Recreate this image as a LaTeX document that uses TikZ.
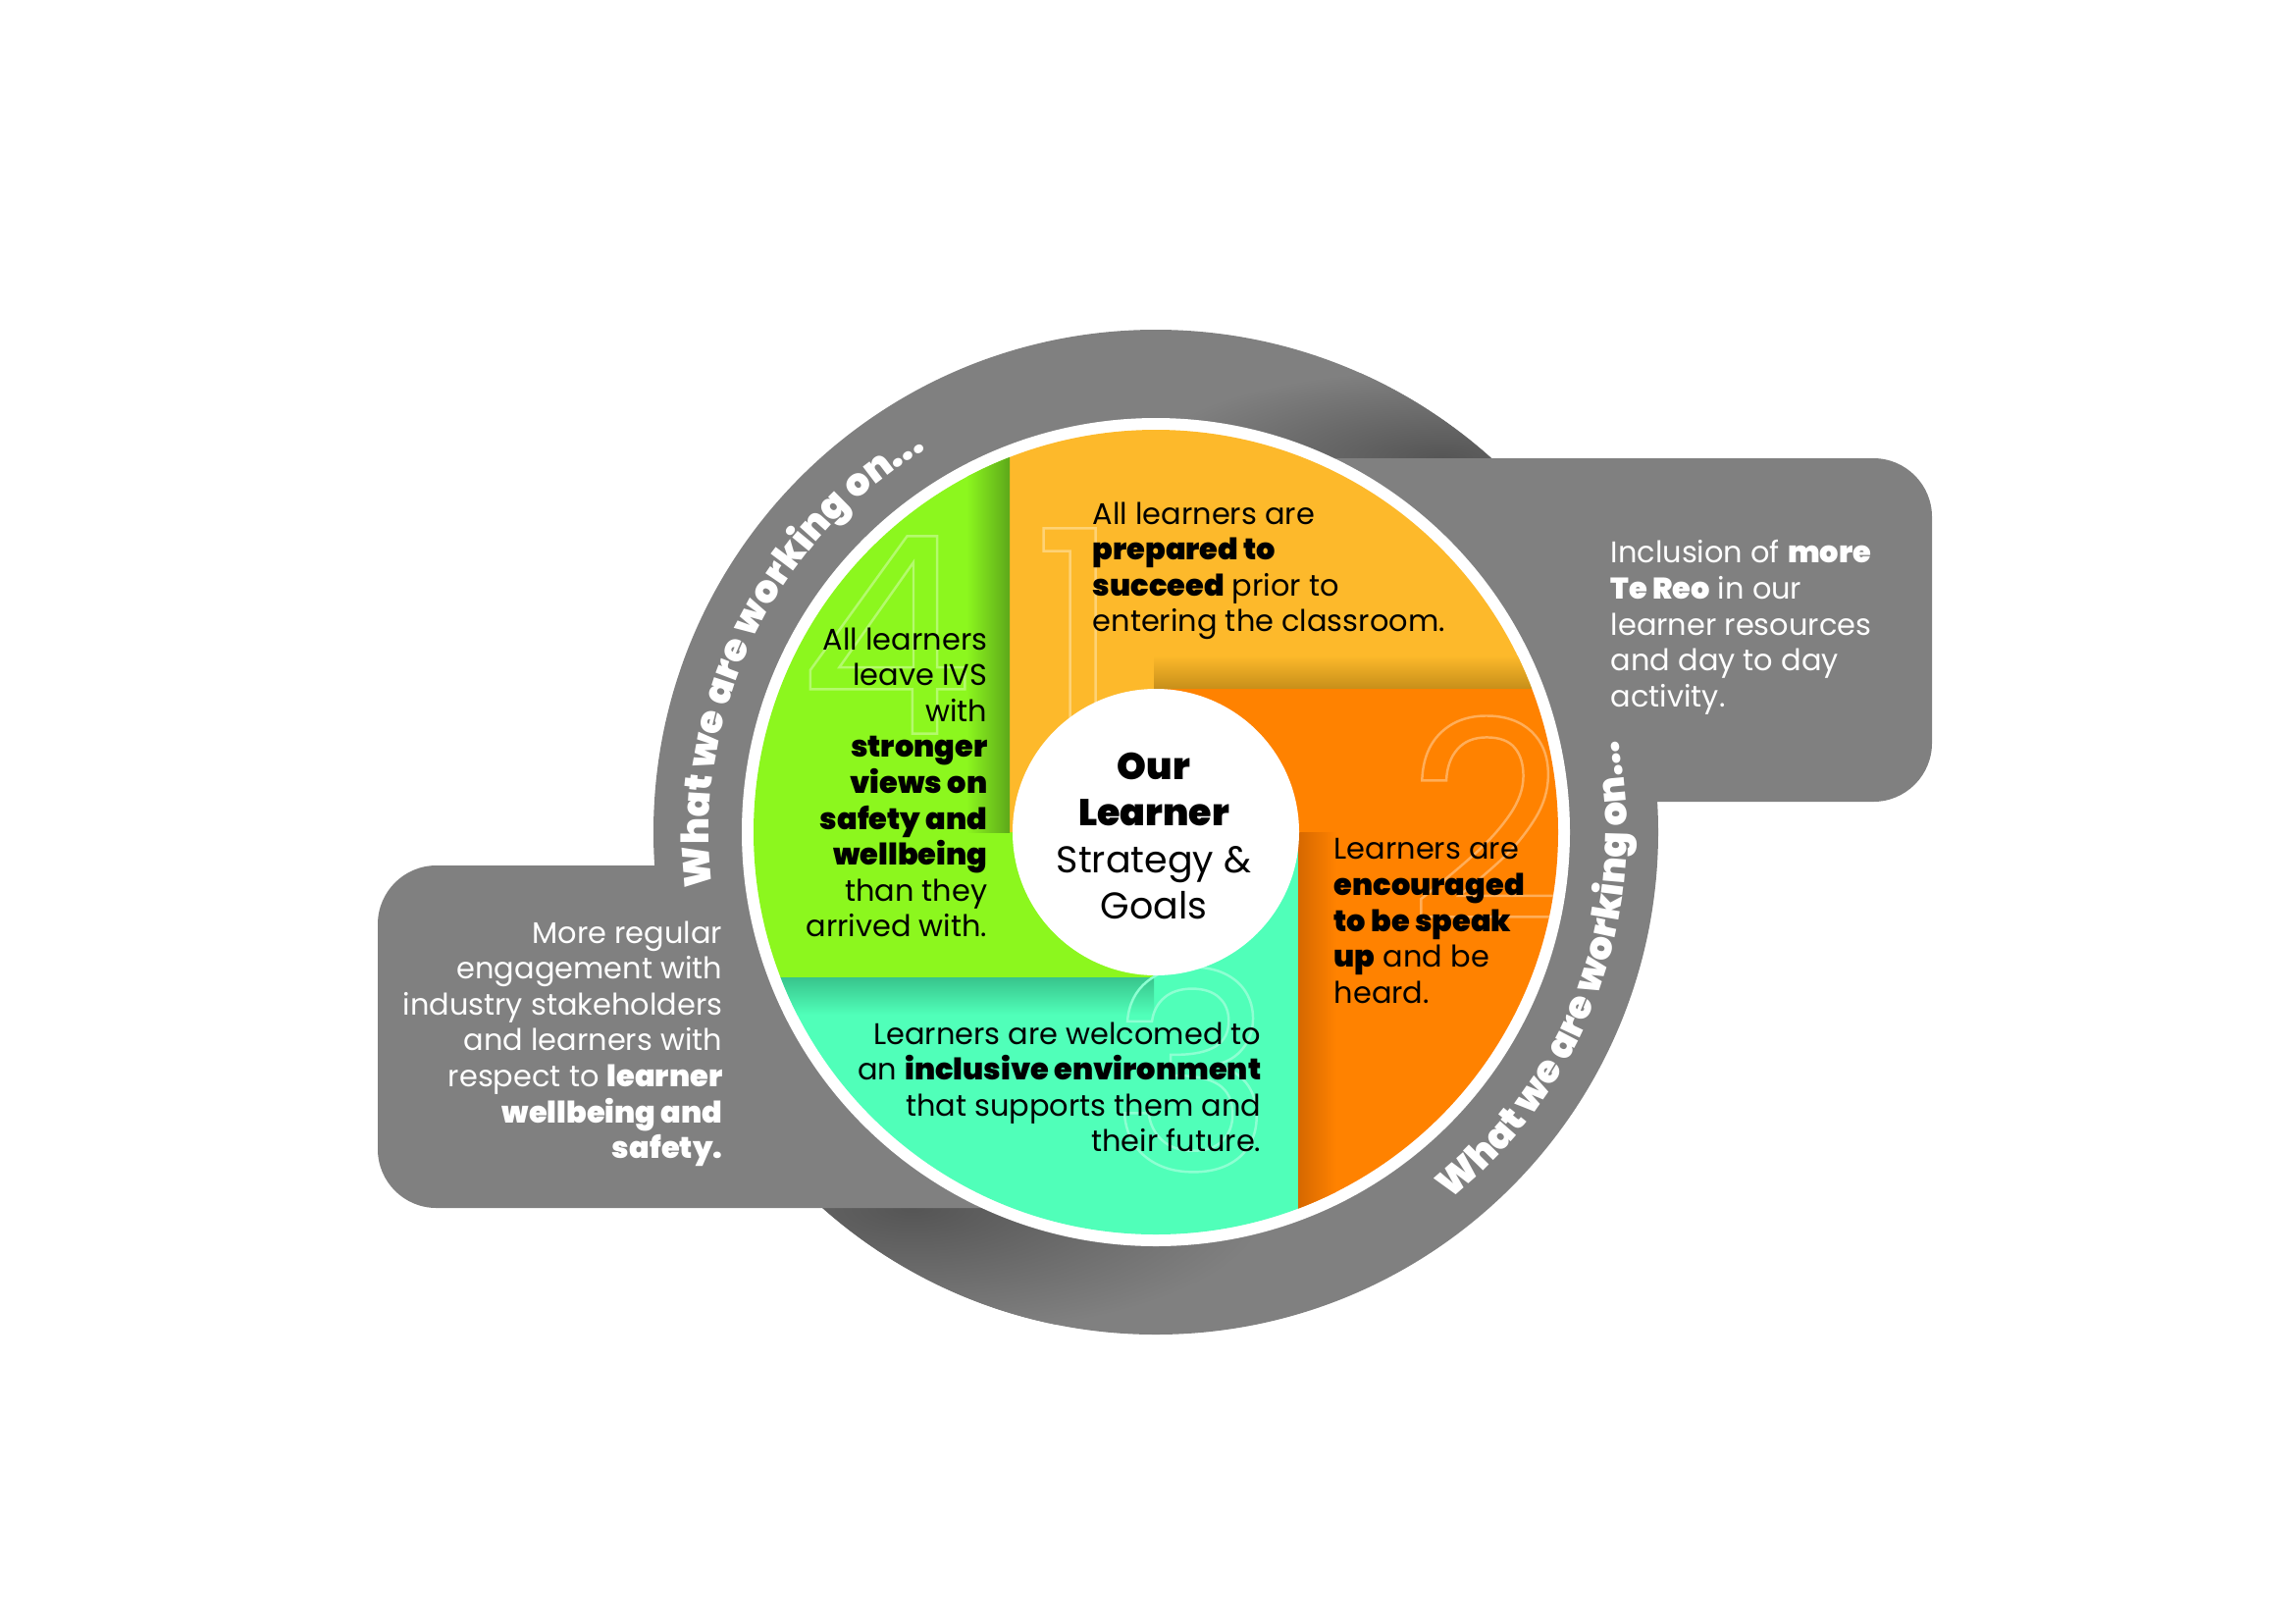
\documentclass[tikz,border=0pt]{standalone}
\usepackage{fontspec}
\setmainfont{Poppins}[BoldFont={Poppins Black}]
\usetikzlibrary{positioning,calc,decorations.text}

\definecolor{ringgrey}{HTML}{808080}
\definecolor{ringshade}{HTML}{555555}
\definecolor{goalyellow}{HTML}{FDB92B}
\definecolor{goalorange}{HTML}{FF8200}
\definecolor{goalgreen}{HTML}{8CF71E}
\definecolor{goalteal}{HTML}{50FFB9}
\definecolor{yellowshade}{HTML}{C8901A}
\definecolor{orangeshade}{HTML}{D66800}
\definecolor{greenshade}{HTML}{5DA81A}
\definecolor{tealshade}{HTML}{38C48C}

% stroked (hollow) glyphs for the big numbers
\newcommand{\outlined}[1]{\special{pdf:literal direct 1 Tr 0.7 w}#1\special{pdf:literal direct 0 Tr}}

\tikzset{
  goaltxt/.style ={font=\fontsize{8.65}{10.4}\selectfont,inner sep=0pt,text=black},
  ideatxt/.style ={goaltxt,text=white},
  hubtxt/.style  ={font=\fontsize{10.8}{13.4}\selectfont,inner sep=0pt,align=center},
  bignum/.style  ={font=\fontsize{80}{80}\selectfont,inner sep=0pt},
  ringlbl/.style ={decorate,decoration={text along path,text align=center,text color=white,
                   text={|\fontsize{11}{12}\selectfont\bfseries|What we are working on...}}},
}

\begin{document}
\begin{tikzpicture}[x=0.01cm,y=-0.01cm]
  \useasboundingbox (0,0) rectangle (2339,1654);
  \coordinate (hub) at (1178,848);

  % ring and the two side panels
  \fill[ringgrey] (hub) circle[radius=512];
  \begin{scope}
    \clip (hub) circle[radius=512];
    \shade[inner color=ringshade,outer color=ringgrey] (1470,467) ellipse[x radius=300,y radius=90];
    \shade[inner color=ringshade,outer color=ringgrey] (930,1231) ellipse[x radius=360,y radius=130];
  \end{scope}
  \fill[ringgrey,rounded corners=17pt] (385,882) rectangle (1178,1231);
  \fill[ringgrey,rounded corners=17pt] (1178,467) rectangle (1969,817);

  % pinwheel
  \fill[white] (hub) circle[radius=422];
  \begin{scope}
    \clip (hub) circle[radius=410];
    \fill[goalgreen]  (700,300) -- (1029,300) -- (1029,848) -- (1176,848) -- (1176,996) -- (700,996) -- cycle;
    \fill[goalyellow] (1029,300) -- (1650,300) -- (1650,701) -- (1176,701) -- (1176,848) -- (1029,848) -- cycle;
    \fill[goalorange] (1176,701) -- (1650,701) -- (1650,1300) -- (1323,1300) -- (1323,848) -- (1176,848) -- cycle;
    \fill[goalteal]   (700,996) -- (1176,996) -- (1176,848) -- (1323,848) -- (1323,1300) -- (700,1300) -- cycle;
    \shade[left color=goalgreen,right color=greenshade] (985,300) rectangle (1029,848);
    \shade[top color=goalyellow,bottom color=yellowshade] (1176,668) rectangle (1650,701);
    \shade[left color=orangeshade,right color=goalorange] (1323,848) rectangle (1362,1300);
    \shade[top color=tealshade,bottom color=goalteal] (700,996) rectangle (1176,1034);

    \node[bignum,text=goalgreen!65!white]  (num4) at (903,647)  {\outlined{4}};
    \node[bignum,text=goalyellow!65!white] (num1) at (1098,640) {\outlined{1}};
    \node[bignum,text=goalorange!65!white] (num2) at (1515,833) {\outlined{2}};
    \node[bignum,text=goalteal!65!white]   (num3) at (1215,1090) {\outlined{3}};
  \end{scope}
  \fill[white] (hub) circle[radius=146];

  \node[hubtxt] (hubtitle) at (1176,852) {{\bfseries Our}\\ {\bfseries Learner}\\ Strategy \&\\ Goals};

  \node[goaltxt,anchor=north west,align=left] (prepared) at (1113,511)
    {All learners are\\ \textbf{prepared to}\\ \textbf{succeed} prior to\\ entering the classroom.};
  \node[goaltxt,anchor=north west,align=left] (speakup) at (1359,854)
    {Learners are\\ \textbf{encouraged}\\ \textbf{to be speak}\\ \textbf{up} and be\\ heard.};
  \node[goaltxt,anchor=north east,align=right] (welcomed) at (1286,1041)
    {Learners are welcomed to\\ an \textbf{inclusive environment}\\ that supports them and\\ their future.};
  \node[goaltxt,anchor=north east,align=right] (safety) at (1007,639)
    {All learners\\ leave IVS\\ with\\ \textbf{stronger}\\ \textbf{views on}\\ \textbf{safety and}\\ \textbf{wellbeing}\\ than they\\ arrived with.};

  \node[ideatxt,anchor=north east,align=right] (industry) at (737,938)
    {More regular\\ engagement with\\ industry stakeholders\\ and learners with\\ respect to \textbf{learner}\\ \textbf{wellbeing and}\\ \textbf{safety.}};
  \node[ideatxt,anchor=north west,align=left] (tereo) at (1641,550)
    {Inclusion of \textbf{more}\\ \textbf{Te Reo} in our\\ learner resources\\ and day to day\\ activity.};

  % curved captions on the ring
  \path[ringlbl] ($(hub)+(-192:455)$) arc[start angle=-192,end angle=-116,radius=455];
  \path[ringlbl] ($(hub)+(58:480)$) arc[start angle=58,end angle=-18,radius=480];
\end{tikzpicture}
\end{document}
